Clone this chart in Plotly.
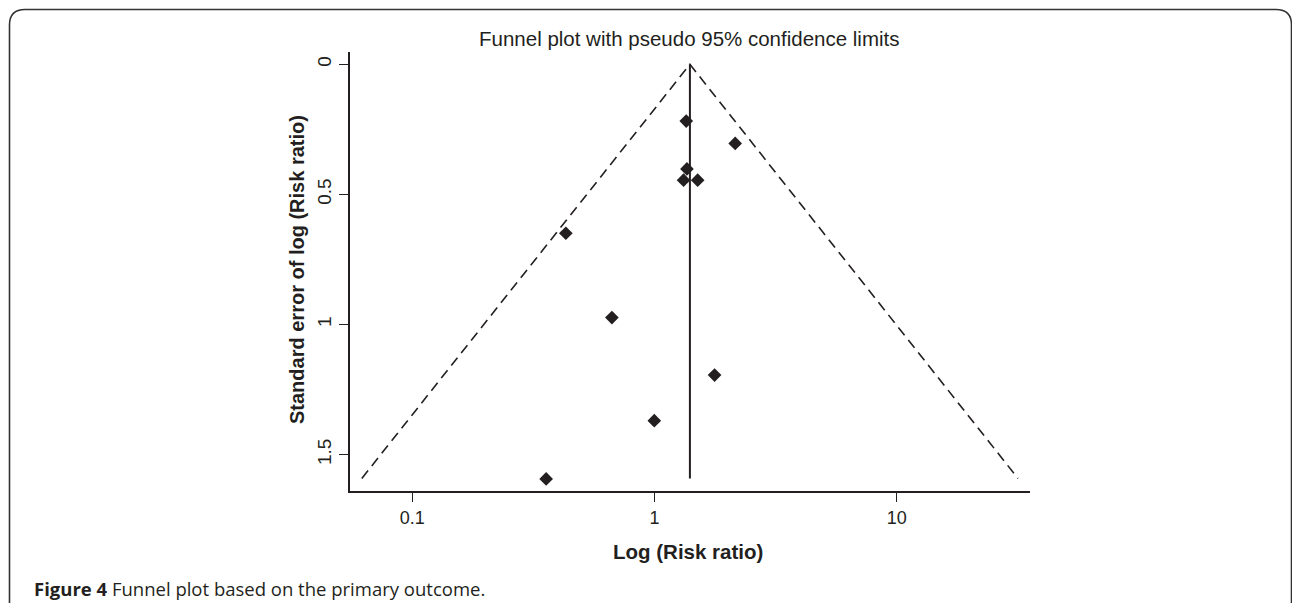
import numpy as np
import plotly.graph_objects as go

# ---- data ----
risk_ratio = [1.352, 2.153, 1.361, 1.318, 1.507, 0.4305, 0.667, 1.770, 0.998, 0.357]
std_error = [0.218, 0.304, 0.402, 0.445, 0.445, 0.649, 0.973, 1.194, 1.369, 1.593]
pooled_rr = [1.40]
se_max = [1.591]
x_tick_vals = [0.1, 1, 10]
x_tick_text = ["0.1", "1", "10"]
y_tick_vals = [0, 0.5, 1, 1.5]
y_tick_text = ["0", "0.5", "1", "1.5"]

W, H = 1292, 603
L, R, T, B = 350, 262, 52, 112
DARK = "#231f20"

theta = np.log(pooled_rr[0])
smax = se_max[0]
left_rr = float(np.exp(theta - 1.96 * smax))
right_rr = float(np.exp(theta + 1.96 * smax))

fig = go.Figure()
fig.add_trace(go.Scatter(
    x=[left_rr, pooled_rr[0], right_rr], y=[smax, 0, smax],
    mode="lines", line=dict(color=DARK, width=1.6, dash="10px,6px"),
    hoverinfo="skip", showlegend=False))
fig.add_trace(go.Scatter(
    x=[pooled_rr[0], pooled_rr[0]], y=[0, smax],
    mode="lines", line=dict(color=DARK, width=2),
    hoverinfo="skip", showlegend=False))
fig.add_trace(go.Scatter(
    x=risk_ratio, y=std_error, mode="markers",
    marker=dict(symbol="diamond", size=10.5, color=DARK, line=dict(width=0)),
    showlegend=False))

pw, ph = W - L - R, H - T - B
def px(xp):
    return (xp - L) / pw
def py(yp):
    return (H - B - yp) / ph

path = (f"M {px(9.5)},{py(603)} L {px(9.5)},{py(25)} "
        f"Q {px(9.5)},{py(9.5)} {px(25)},{py(9.5)} "
        f"L {px(1276)},{py(9.5)} Q {px(1291.5)},{py(9.5)} {px(1291.5)},{py(25)} "
        f"L {px(1291.5)},{py(603)}")
fig.add_shape(type="path", path=path, xref="paper", yref="paper",
              line=dict(color="#333333", width=1.6), layer="above")

font_main = "Liberation Sans, Arial, sans-serif"

fig.update_layout(
    width=W, height=H,
    margin=dict(l=L, r=R, t=T, b=B),
    paper_bgcolor="white", plot_bgcolor="white",
    font=dict(family=font_main, color=DARK, size=18),
    xaxis=dict(type="log", range=[-1.257, 1.550],
               tickvals=x_tick_vals, ticktext=x_tick_text,
               showline=True, linecolor=DARK, linewidth=2,
               ticks="outside", ticklen=9, tickwidth=1.3, tickcolor=DARK,
               showgrid=False, zeroline=False,
               tickfont=dict(size=18, family=font_main, color=DARK)),
    yaxis=dict(range=[1.6393, -0.0473],
               tickvals=y_tick_vals, ticktext=y_tick_text,
               showline=True, linecolor=DARK, linewidth=2,
               ticks="outside", ticklen=9, tickwidth=1.3, tickcolor=DARK,
               tickangle=-90, showgrid=False, zeroline=False,
               tickfont=dict(size=19, family=font_main, color=DARK)),
    annotations=[
        dict(text="Funnel plot with pseudo 95% confidence limits",
             x=px(689), y=py(38), xref="paper", yref="paper",
             showarrow=False, xanchor="center", yanchor="middle",
             font=dict(size=20.5, family=font_main, color=DARK)),
        dict(text="<b>Log (Risk ratio)</b>",
             x=px(688), y=py(551), xref="paper", yref="paper",
             showarrow=False, xanchor="center", yanchor="middle",
             font=dict(size=20.5, family=font_main, color=DARK)),
        dict(text="<b>Standard error of log (Risk ratio)</b>",
             x=px(297), y=py(270), xref="paper", yref="paper",
             showarrow=False, xanchor="center", yanchor="middle", textangle=-90,
             font=dict(size=20, family=font_main, color=DARK)),
        dict(text="<b>Figure 4</b> Funnel plot based on the primary outcome.",
             x=px(32), y=py(588), xref="paper", yref="paper",
             showarrow=False, xanchor="left", yanchor="middle",
             font=dict(size=18.5, family="Open Sans, Noto Sans, sans-serif", color=DARK)),
    ],
)

fig.write_html("out.html")
